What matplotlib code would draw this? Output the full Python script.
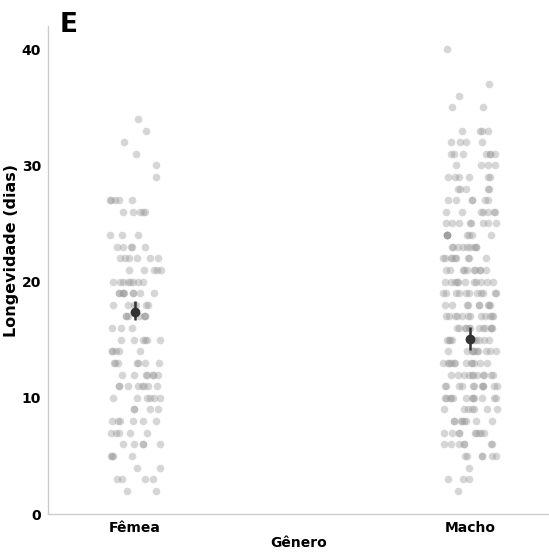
import numpy as np
import pandas as pd
import matplotlib
matplotlib.use('Agg')
import matplotlib.pyplot as plt
import seaborn as sns

# %% data: counts of flies per longevity (days)
femea_dias = [34, 33, 32, 31, 30, 29, 27, 26, 24, 23, 22, 21, 20, 19, 18, 17, 16, 15,
              14, 13, 12, 11, 10, 9, 8, 7, 6, 5, 4, 3, 2]
femea_n = [1, 1, 1, 1, 1, 1, 5, 5, 3, 5, 6, 5, 8, 9, 6, 7, 3, 6,
           5, 7, 7, 8, 6, 4, 6, 5, 5, 4, 2, 4, 2]

macho_dias = [40, 37, 36, 35, 33, 32, 31, 30, 29, 28, 27, 26, 25, 24, 23, 22, 21, 20,
              19, 18, 17, 16, 15, 14, 13, 12, 11, 10, 9, 8, 7, 6, 5, 4, 3, 2]
macho_n = [1, 1, 1, 2, 4, 4, 7, 4, 6, 5, 6, 7, 8, 9, 9, 9, 10, 11,
           11, 9, 12, 12, 12, 10, 12, 11, 11, 12, 7, 8, 9, 7, 6, 1, 3, 1]

generos = ['Fêmea', 'Macho']
media = [17.4, 15.1]
ic_baixo = [16.7, 14.1]
ic_alto = [18.3, 16.1]

df = pd.DataFrame({
    'Gênero': ['Fêmea'] * sum(femea_n) + ['Macho'] * sum(macho_n),
    'Longevidade': np.concatenate([np.repeat(femea_dias, femea_n),
                                   np.repeat(macho_dias, macho_n)]),
})

# %%
plt.rcParams['font.family'] = ['DejaVu Sans']
np.random.seed(3)

fig = plt.figure(figsize=(5.49, 5.54), dpi=100)
ax = fig.add_axes([0.0874, 0.0722, 0.9126, 0.881])

sns.stripplot(data=df, x='Gênero', y='Longevidade', order=generos, jitter=0.08,
              color='#999999', alpha=0.4, size=5.5, linewidth=0, ax=ax)

xs = np.arange(len(generos))
yerr = [np.array(media) - np.array(ic_baixo), np.array(ic_alto) - np.array(media)]
ax.errorbar(xs, media, yerr=yerr, fmt='o', color='#333333', ms=6, elinewidth=1.8,
            capsize=0, zorder=5)

ax.set_xlim(-0.26, 1.236)
ax.set_ylim(0, 42)
ax.set_yticks([0, 10, 20, 30, 40])
ax.tick_params(length=0, labelsize=10, pad=5)
for lab in ax.get_xticklabels() + ax.get_yticklabels():
    lab.set_fontweight('bold')
ax.set_xlabel('Gênero', fontsize=10, fontweight='bold', labelpad=1)
ax.set_ylabel('Longevidade (dias)', fontsize=11.5, fontweight='bold')
ax.yaxis.set_label_coords(-0.058, 0.539)

for s in ['top', 'right']:
    ax.spines[s].set_visible(False)
for s in ['left', 'bottom']:
    ax.spines[s].set_color('#cccccc')
    ax.spines[s].set_linewidth(1.0)

fig.text(60 / 549, 1 - 32 / 554, 'E', fontsize=19, fontweight='bold', va='baseline')

fig.savefig('out.png', dpi=100)
